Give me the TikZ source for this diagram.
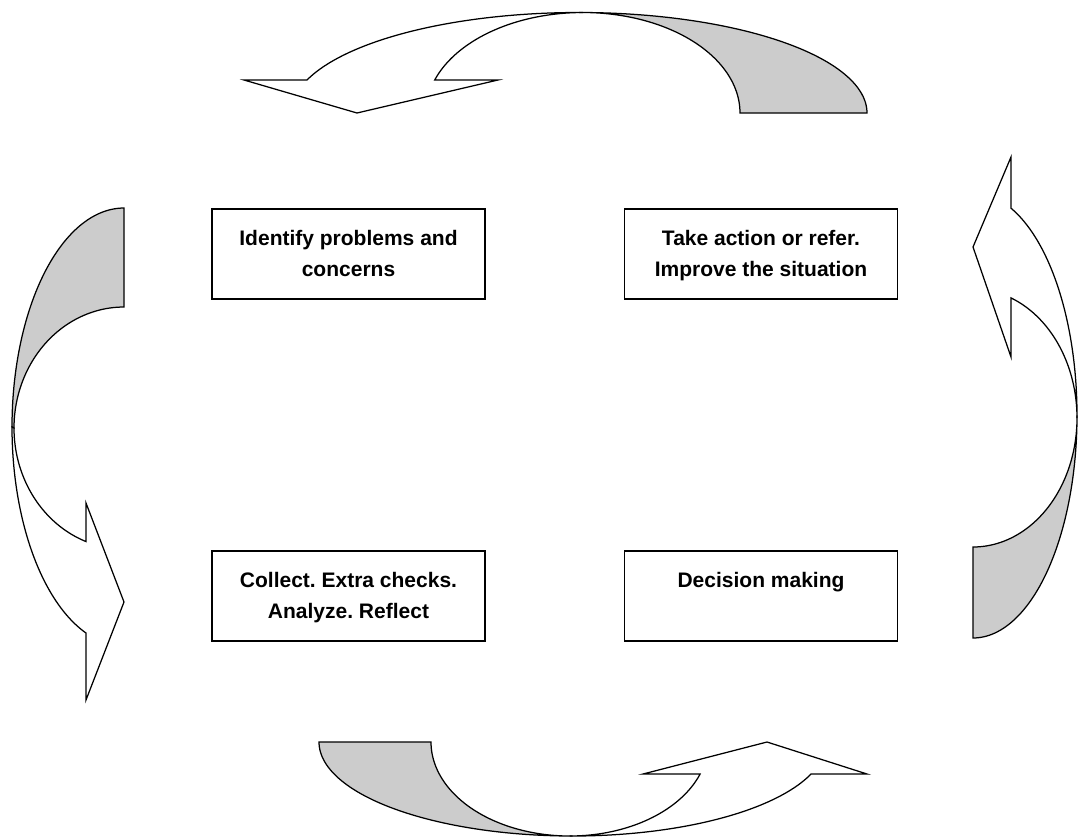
\documentclass[tikz,border=0pt]{standalone}
\usepackage{fontspec}
\setmainfont{Liberation Sans}
\newcommand{\boxtext}[1]{\parbox[c][90pt][t]{273pt}{\centering\frenchspacing\fontsize{21}{31}\selectfont\bfseries\rule{0pt}{36.5pt}#1}}
\begin{document}
\begin{tikzpicture}[x=1pt,y=-1pt,
  stepbox/.style={draw=black,line width=1.7pt,rectangle,inner sep=0pt,fill=white},
  back/.style={draw=black,line width=1.25pt,fill=shade,line join=miter},
  front/.style={draw=black,line width=1.25pt,fill=white,line join=miter}]
\definecolor{shade}{RGB}{204,204,204}
\useasboundingbox (0,0) rectangle (1078,839);

% ---- top arrow (curved down, pointing left) ----
\path[back] plot[domain=90:0,samples=60] ({579+288*cos(\x)},{113-100.5*sin(\x)})
  -- plot[domain=0:90,samples=60] ({583+157*cos(\x)},{113-100.5*sin(\x)}) -- cycle;
\path[front] plot[domain=160.8:90,samples=60] ({579+288*cos(\x)},{113-100.5*sin(\x)})
  -- plot[domain=90:160.8,samples=60] ({583+157*cos(\x)},{113-100.5*sin(\x)})
  -- (498,80) -- (357,113) -- (244,80) -- cycle;

% ---- left arrow (curved right, pointing right) ----
\path[back] plot[domain=90:180,samples=60] ({124+112*cos(\x)},{427-219*sin(\x)})
  -- plot[domain=180:90,samples=60] ({124+110*cos(\x)},{428-121*sin(\x)}) -- cycle;
\path[front] plot[domain=180:250.2,samples=60] ({124+112*cos(\x)},{427-219*sin(\x)})
  -- (86,700) -- (124,602) -- (86,503)
  -- plot[domain=249.8:180,samples=60] ({124+110*cos(\x)},{428-121*sin(\x)}) -- cycle;

% ---- right arrow (curved left, pointing left) ----
\path[back] plot[domain=0:-90,samples=60] ({973+104*cos(\x)},{415.4-222.6*sin(\x)})
  -- plot[domain=-90:0,samples=60] ({973+104*cos(\x)},{418-129*sin(\x)}) -- cycle;
\path[front] plot[domain=0:68.6,samples=60] ({973+104*cos(\x)},{415.4-222.6*sin(\x)})
  -- (1011,157) -- (973,247) -- (1011,357)
  -- plot[domain=68.6:0,samples=60] ({973+104*cos(\x)},{418-129*sin(\x)}) -- cycle;

% ---- bottom arrow (curved up, pointing right) ----
\path[back] plot[domain=180:270,samples=60] ({572.6+253.6*cos(\x)},{742-94*sin(\x)})
  -- plot[domain=270:180,samples=60] ({569.7+138.7*cos(\x)},{742-94*sin(\x)}) -- cycle;
\path[front] plot[domain=-90:-19.9,samples=60] ({572.6+253.6*cos(\x)},{742-94*sin(\x)})
  -- (867,774) -- (767,742) -- (643,774)
  -- plot[domain=-19.9:-90,samples=60] ({569.7+138.7*cos(\x)},{742-94*sin(\x)}) -- cycle;

% ---- boxes ----
\node[stepbox] (b1) at (348.5,254) {\boxtext{Identify problems and\\concerns}};
\node[stepbox] (b2) at (761,254) {\boxtext{Take action or refer.\\Improve the situation}};
\node[stepbox] (b3) at (348.5,596) {\boxtext{Collect. Extra checks.\\Analyze. Reflect}};
\node[stepbox] (b4) at (761,596) {\boxtext{Decision making}};
\end{tikzpicture}
\end{document}
